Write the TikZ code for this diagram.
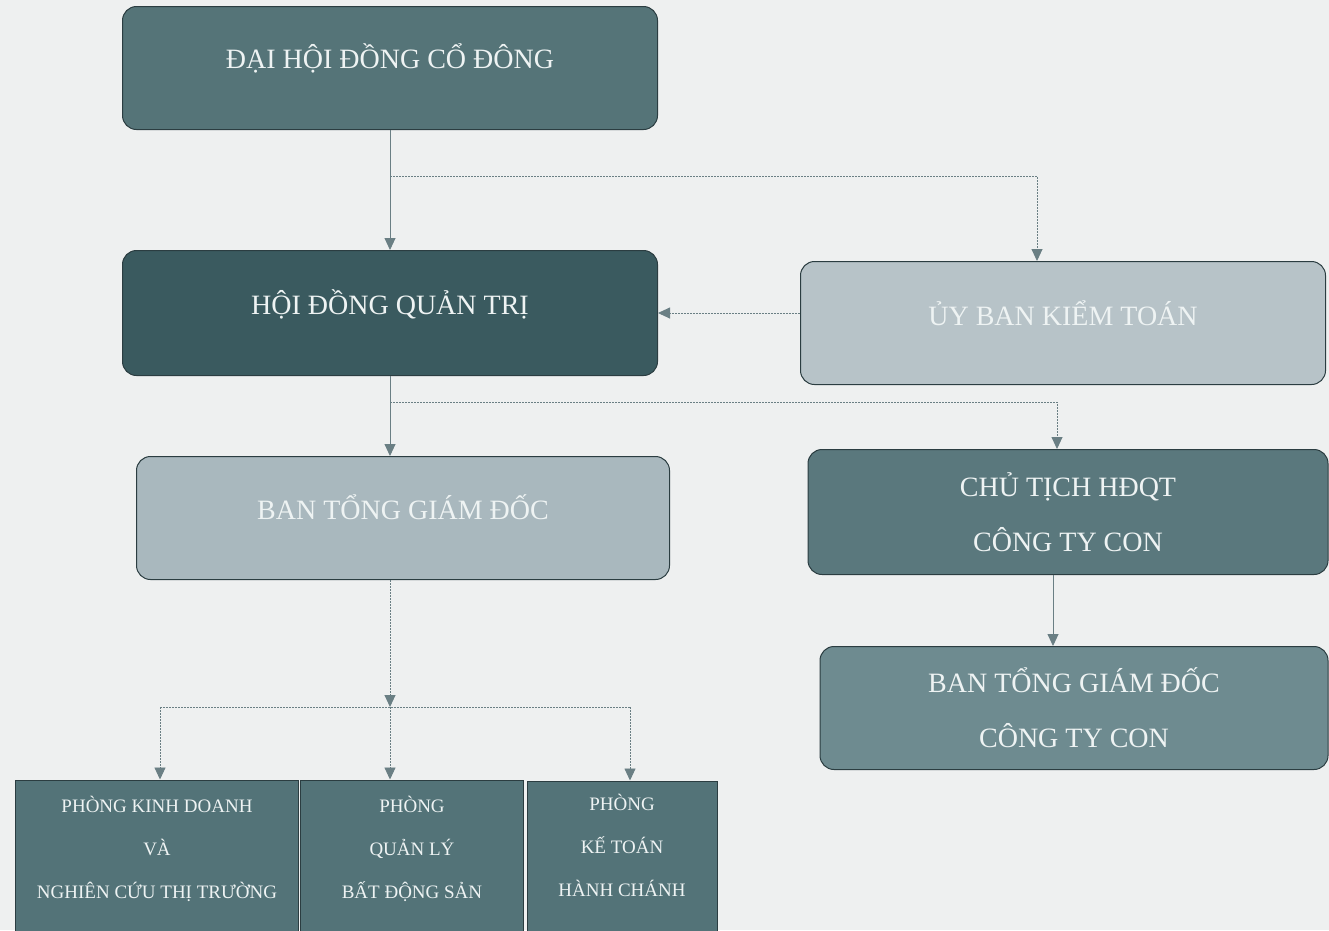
\documentclass[tikz,border=0pt]{standalone}
\usepackage{fontspec}
\setmainfont{Liberation Serif}
\usetikzlibrary{arrows.meta}

\definecolor{paper}{HTML}{EEF0F0}
\definecolor{tealA}{HTML}{557478}
\definecolor{tealB}{HTML}{3A5A5F}
\definecolor{tealC}{HTML}{5A787D}
\definecolor{tealD}{HTML}{6E8B90}
\definecolor{tealE}{HTML}{537378}
\definecolor{greyA}{HTML}{B7C3C8}
\definecolor{greyB}{HTML}{A9B8BE}
\definecolor{edge}{HTML}{2B3D41}
\definecolor{wire}{HTML}{6A7F84}
\definecolor{ink}{HTML}{EEF3F3}

% Raise the printed text, keep the box size
\newcommand{\lifttext}[2]{\raisebox{#1}[\height][\depth]{#2}}

\tikzset{
  box/.style = {draw = edge, line width = 1pt, rounded corners = 14pt,
    text = ink, align = center, inner sep = 0pt,
    font = \fontsize{28}{55}\selectfont},
  dept/.style = {draw = edge, line width = 1pt, text = ink, align = center,
    inner sep = 0pt, minimum height = 152pt,
    font = \fontsize{19}{43}\selectfont},
  conn/.style = {draw = wire, line width = 0.9pt,
    -{Triangle[width = 11pt, length = 12pt]}},
  branch/.style = {conn, dash pattern = on 2pt off 1pt}
}

\begin{document}
\begin{tikzpicture}[x = 1pt, y = -1pt]
    % Page and background
    \fill[paper] (0,0) rectangle (1329,930);
    \useasboundingbox (0,0) rectangle (1329,930);

    % Left column
    \node[box, fill = tealA, minimum width = 535pt, minimum height = 123pt]
        (dhcd) at (390,68) {\lifttext{10pt}{ĐẠI HỘI ĐỒNG CỔ ĐÔNG}};
    \node[box, fill = tealB, minimum width = 535pt, minimum height = 125pt]
        (hdqt) at (390,313) {\lifttext{9pt}{HỘI ĐỒNG QUẢN TRỊ}};
    \node[box, fill = greyB, minimum width = 533pt, minimum height = 123pt]
        (btgd) at (403,518) {\lifttext{11pt}{BAN TỔNG GIÁM ĐỐC}};

    % Right column
    \node[box, fill = greyA, minimum width = 525pt, minimum height = 123pt]
        (ubkt) at (1063,323) {\lifttext{10pt}{ỦY BAN KIỂM TOÁN}};
    \node[box, fill = tealC, minimum width = 520pt, minimum height = 125pt]
        (ctct) at (1068,512) {CHỦ TỊCH HĐQT\\CÔNG TY CON};
    \node[box, fill = tealD, minimum width = 508pt, minimum height = 123pt]
        (btgdc) at (1074,708) {BAN TỔNG GIÁM ĐỐC\\CÔNG TY CON};

    % Departments
    \node[dept, fill = tealE, minimum width = 283pt] (pkd) at (157,856)
        {\lifttext{9pt}{\begin{tabular}{@{}c@{}}PHÒNG KINH DOANH\\VÀ\\NGHIÊN CỨU THỊ TRƯỜNG\end{tabular}}};
    \node[dept, fill = tealE, minimum width = 223pt] (pql) at (412,856)
        {\lifttext{9pt}{\begin{tabular}{@{}c@{}}PHÒNG\\QUẢN LÝ\\BẤT ĐỘNG SẢN\end{tabular}}};
    \node[dept, fill = tealE, minimum width = 190pt] (pkt) at (622,857)
        {\lifttext{12pt}{\begin{tabular}{@{}c@{}}PHÒNG\\KẾ TOÁN\\HÀNH CHÁNH\end{tabular}}};

    % Junctions
    \coordinate (j1) at (390,176);
    \coordinate (j1r) at (1037,176);
    \coordinate (j2) at (390,402);
    \coordinate (j2r) at (1057,402);
    \coordinate (j3) at (390,707);
    \coordinate (j3l) at (160,707);
    \coordinate (j3r) at (630,707);
    \coordinate (c5) at (1053,0);

    % Connectors
    \draw[conn] (dhcd.south) -- (hdqt.north);
    \draw[branch] (j1) -- (j1r) -- (j1r |- ubkt.north);
    \draw[branch] (hdqt.east -| ubkt.west) -- (hdqt.east);
    \draw[conn] (hdqt.south) -- (hdqt.south |- btgd.north);
    \draw[branch] (j2) -- (j2r) -- (j2r |- ctct.north);
    \draw[conn] (c5 |- ctct.south) -- (c5 |- btgdc.north);
    \draw[branch] (btgd.south -| j3) -- (j3);
    \draw[branch, -] (j3l) -- (j3r);
    \draw[branch] (j3l) -- (j3l |- pkd.north);
    \draw[branch] (j3) -- (j3 |- pql.north);
    \draw[branch] (j3r) -- (j3r |- pkt.north);
\end{tikzpicture}
\end{document}
